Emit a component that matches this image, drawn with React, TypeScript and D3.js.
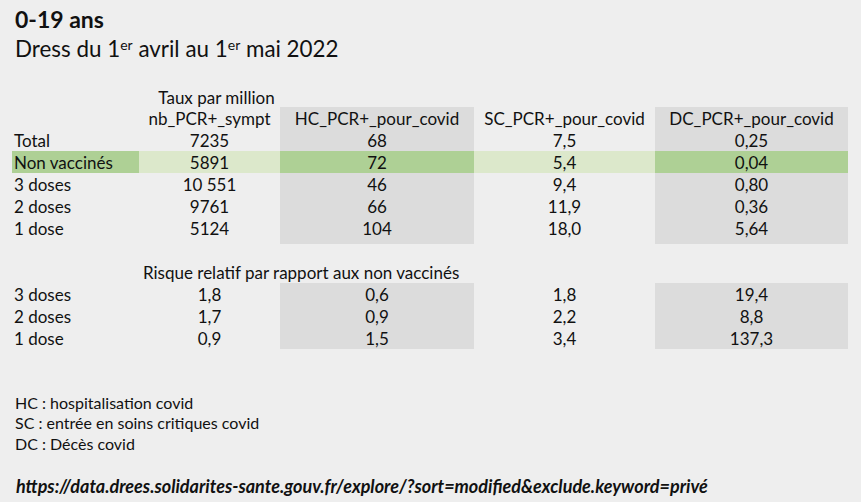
import React from "react";
import * as d3 from "d3";

const rowLabels = ["Total", "Non vaccinés", "3 doses", "2 doses", "1 dose"];
const columns = ["nb_PCR+_sympt", "HC_PCR+_pour_covid", "SC_PCR+_pour_covid", "DC_PCR+_pour_covid"];
const nbPcr = [7235, 5891, 10551, 9761, 5124];
const hcPcr = [68, 72, 46, 66, 104];
const scPcr = [7.5, 5.4, 9.4, 11.9, 18.0];
const dcPcr = [0.25, 0.04, 0.8, 0.36, 5.64];
const decimals = [0, 0, 1, 2];

const riskLabels = ["3 doses", "2 doses", "1 dose"];
const riskNb = [1.8, 1.7, 0.9];
const riskHc = [0.6, 0.9, 1.5];
const riskSc = [1.8, 2.2, 3.4];
const riskDc = [19.4, 8.8, 137.3];

const footnotes = ["HC : hospitalisation covid", "SC : entrée en soins critiques covid", "DC : Décès covid"];
const source = "https://data.drees.solidarites-sante.gouv.fr/explore/?sort=modified&exclude.keyword=privé";

const fr = d3.formatLocale({ decimal: ",", thousands: "\u202f", grouping: [3], currency: ["", " €"] });
const fmt = (v: number, d: number) => (v >= 10000 ? fr.format(`,.${d}f`)(v) : fr.format(`.${d}f`)(v));

export default function App() {
  const ref = React.useRef<SVGSVGElement>(null);
  React.useEffect(() => {
    const width = 861;
    const height = 502;
    const font = "Lato, 'Noto Sans', sans-serif";
    const svg = d3.select(ref.current).attr("width", width).attr("height", height);
    svg.selectAll("*").remove();
    svg.append("rect").attr("width", width).attr("height", height).attr("fill", "#eeeeee");

    // column edges: label column then the four data columns
    const edges = [12, 139, 280, 474, 655, 848];
    const colKeys = ["label", ...columns];
    const x0 = d3.scaleOrdinal<string, number>().domain(colKeys).range(edges.slice(0, -1));
    const x1 = d3.scaleOrdinal<string, number>().domain(colKeys).range(edges.slice(1));
    const cx = (k: string) => (x0(k) + x1(k)) / 2;
    const shaded = [columns[1], columns[3]];

    const rowH = 22;
    const y = d3.scaleBand().domain(["head", ...rowLabels]).range([107, 107 + rowH * 6]);
    const y2 = d3.scaleBand().domain(riskLabels).range([283, 283 + rowH * 3]);

    // titles
    svg.append("text").attr("x", 15).attr("y", 28).attr("font-family", font).attr("font-size", 23)
      .attr("font-weight", "bold").attr("fill", "#111").text("0-19 ans");
    const sub = svg.append("text").attr("x", 15).attr("y", 57).attr("font-family", font).attr("font-size", 22.4).attr("fill", "#111");
    sub.append("tspan").text("Dress du 1");
    sub.append("tspan").attr("dy", -7).attr("font-size", 14).text("er");
    sub.append("tspan").attr("dy", 7).text(" avril au 1");
    sub.append("tspan").attr("dy", -7).attr("font-size", 14).text("er");
    sub.append("tspan").attr("dy", 7).text(" mai 2022");

    // grey shaded columns
    const g = svg.append("g");
    for (const k of shaded) {
      g.append("rect").attr("x", x0(k)).attr("width", x1(k) - x0(k))
        .attr("y", y("head")!).attr("height", y.range()[1] + 5 - y("head")!).attr("fill", "#dcdcdc");
      g.append("rect").attr("x", x0(k)).attr("width", x1(k) - x0(k))
        .attr("y", y2.range()[0]).attr("height", y2.range()[1] - y2.range()[0]).attr("fill", "#dcdcdc");
    }

    // highlight the "Non vaccinés" row
    const hy = y("Non vaccinés")!;
    for (const k of colKeys) {
      const dark = k === "label" || shaded.includes(k);
      g.append("rect").attr("x", x0(k)).attr("width", x1(k) - x0(k)).attr("y", hy).attr("height", rowH)
        .attr("fill", dark ? "#aed095" : "#dce8cb");
    }

    const txt = svg.append("g").attr("font-family", font).attr("font-size", 17).attr("fill", "#111")
      .attr("dominant-baseline", "central");

    txt.append("text").attr("x", cx(columns[0]) + 7).attr("y", y("head")! - rowH / 2 + 1)
      .attr("text-anchor", "middle").text("Taux par million");
    for (const k of columns) {
      txt.append("text").attr("x", cx(k)).attr("y", y("head")! + rowH / 2).attr("text-anchor", "middle").text(k);
    }

    const series = [nbPcr, hcPcr, scPcr, dcPcr];
    rowLabels.forEach((r, i) => {
      const yy = y(r)! + rowH / 2;
      txt.append("text").attr("x", 14).attr("y", yy).text(r);
      columns.forEach((k, j) => {
        txt.append("text").attr("x", cx(k)).attr("y", yy).attr("text-anchor", "middle").text(fmt(series[j][i], decimals[j]));
      });
    });

    txt.append("text").attr("x", 143).attr("y", y2.range()[0] - rowH / 2).text("Risque relatif par rapport aux non vaccinés");
    const risk = [riskNb, riskHc, riskSc, riskDc];
    riskLabels.forEach((r, i) => {
      const yy = y2(r)! + rowH / 2;
      txt.append("text").attr("x", 14).attr("y", yy).text(r);
      columns.forEach((k, j) => {
        txt.append("text").attr("x", cx(k)).attr("y", yy).attr("text-anchor", "middle").text(fmt(risk[j][i], 1));
      });
    });

    // notes
    footnotes.forEach((f, i) => {
      svg.append("text").attr("x", 15).attr("y", 402 + i * 20.5).attr("dominant-baseline", "central")
        .attr("font-family", font).attr("font-size", 16).attr("fill", "#111").text(f);
    });
    svg.append("text").attr("x", 16).attr("y", 486).attr("dominant-baseline", "central")
      .attr("font-family", font).attr("font-size", 18).attr("font-weight", "bold").attr("font-style", "italic")
      .attr("fill", "#111").text(source);
  }, []);

  return <svg ref={ref} style={{ position: "absolute", left: 0, top: 0, display: "block" }}></svg>;
}
